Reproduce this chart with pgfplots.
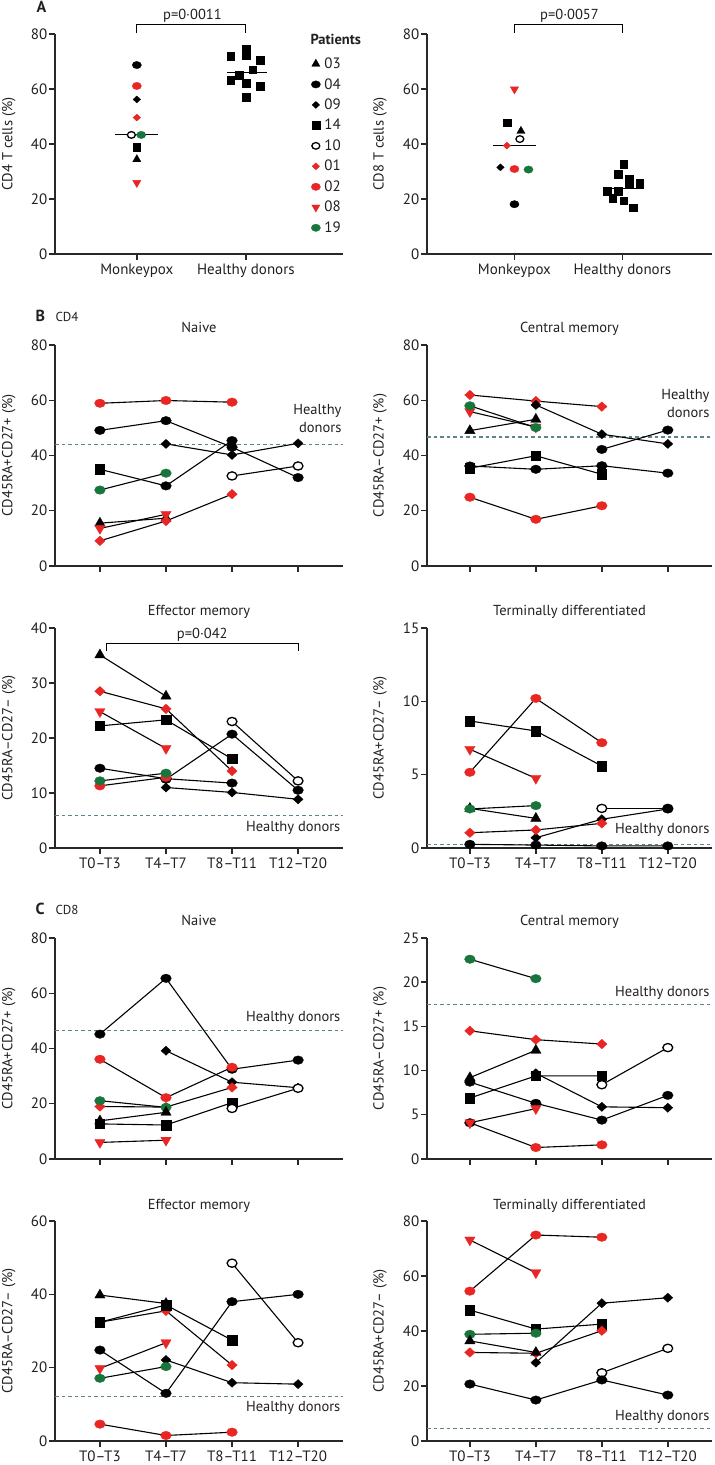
\documentclass[border=0pt]{standalone}
\usepackage{fontspec}
\setmainfont{PT Sans}
\usepackage{pgfplots}
\pgfplotsset{compat=1.18}
\definecolor{mred}{RGB}{232,38,36}
\definecolor{mgreen}{RGB}{24,118,60}
\definecolor{hdcol}{RGB}{95,130,140}
\definecolor{axcol}{RGB}{40,40,40}
\definecolor{txt}{RGB}{35,31,32}
\newcommand{\fs}[1]{\fontsize{#1}{#1}\selectfont}
\tikzset{hdl/.style={font=\fs{14.5}, text=txt, anchor=east, align=right}}
\pgfplotsset{
 base/.style={
  scale only axis, anchor=south west, clip=false,
  axis x line*=bottom, axis y line*=left,
  axis line style={line width=1.4pt, draw=axcol},
  tick style={line width=1.4pt, draw=axcol},
  tick align=outside, major tick length=6pt,
  ymin=0,
  tick label style={font=\fs{15}, text=txt},
  yticklabel style={inner sep=1.5pt},
  /pgf/number format/assume math mode=true,
  ylabel style={font=\fs{14.5}, anchor=center, text=txt},
  title style={font=\fs{14.5}, at={(axis description cs:0.5,1)}, anchor=base, yshift=6pt, text=txt},
 },
 lc/.style={width=288pt, xmin=-0.68, xmax=3.68, xtick={0,1,2,3}, ylabel style={at={(axis description cs:-0.16,0.5)}}},
 rc/.style={width=285pt, xmin=-0.65, xmax=3.67, xtick={0,1,2,3}, ylabel style={at={(axis description cs:-0.165,0.5)}}},
 nolab/.style={xticklabels={}},
 tlab/.style={xticklabels={T0–T3,T4–T7,T8–T11,T12–T20}},
 ser/.style={line width=1.1pt, black, solid},
 p03/.style={ser, mark=triangle*, mark size=6pt, mark options={solid, draw=black, fill=black, line width=0.3pt}},
 p04/.style={ser, mark=*, mark size=4.3pt, mark options={solid, draw=black, fill=black, line width=0.3pt, xscale=1.25}},
 p09/.style={ser, mark=diamond*, mark size=4.6pt, mark options={solid, draw=black, fill=black, line width=0.3pt, xscale=1.45}},
 p14/.style={ser, mark=square*, mark size=4.7pt, mark options={solid, draw=black, fill=black, line width=0.3pt}},
 p10/.style={ser, mark=*, mark size=4.1pt, mark options={solid, draw=black, fill=white, line width=1.3pt, xscale=1.2}},
 p01/.style={ser, mark=diamond*, mark size=4.8pt, mark options={solid, draw=mred, fill=mred, line width=0.3pt, xscale=1.45}},
 p02/.style={ser, mark=*, mark size=4.3pt, mark options={solid, draw=mred, fill=mred, line width=0.3pt, xscale=1.25}},
 p08/.style={ser, mark=triangle*, mark size=6pt, mark options={solid, draw=mred, fill=mred, line width=0.3pt, rotate=180}},
 p19/.style={ser, mark=*, mark size=4.3pt, mark options={solid, draw=mgreen, fill=mgreen, line width=0.3pt, xscale=1.25}},
 hd/.style={hdcol, dash pattern=on 3.5pt off 3pt, line width=1.2pt, forget plot},
 brk/.style={black, line width=1.1pt, forget plot},
}
\begin{document}
\begin{tikzpicture}
\path[use as bounding box] (0,0) rectangle (715pt,1465pt);
% ---------------- Panel A left
\begin{axis}[base, width=288pt, height=220pt, at={(55pt,1211pt)}, xmin=-0.75, xmax=1.89, ymax=80,
  xtick={0,1}, xticklabels={Monkeypox,Healthy donors}, ytick={0,20,40,60,80},
  ylabel={CD4 T cells (\%)}, ylabel style={at={(axis description cs:-0.16,0.5)}},
  legend style={draw=none, fill=none, at={(rel axis cs:0.889,0.897)}, anchor=north west, font=\fs{15}, text=txt, inner sep=0pt, row sep=6.3pt, nodes={inner sep=1pt}, /tikz/every odd column/.append style={column sep=3pt}},
  legend cell align=left]
\addplot[p04, only marks, mark size=3.7pt, forget plot] coordinates {(0,68.7)};
\addplot[p02, only marks, mark size=3.7pt, forget plot] coordinates {(0,61.1)};
\addplot[p09, only marks, mark size=3.5pt, forget plot] coordinates {(0,56.2)};
\addplot[p01, only marks, mark size=3.5pt, forget plot] coordinates {(0,49.6)};
\addplot[p10, only marks, mark size=3.3pt, forget plot] coordinates {(-0.05,43.3)};
\addplot[p19, only marks, mark size=3.7pt, forget plot] coordinates {(0.04,43.3)};
\addplot[p14, only marks, mark size=3.8pt, forget plot] coordinates {(0,38.9)};
\addplot[p03, only marks, mark size=4.8pt, forget plot] coordinates {(0,34.4)};
\addplot[p08, only marks, mark size=4.8pt, forget plot] coordinates {(0,25.9)};
\addplot[brk] coordinates {(-0.2,43.3)(0.19,43.3)};
\addplot[p14, only marks, mark size=3.8pt, forget plot] coordinates {(0.86,72.0)(1.0,74.4)(1.0,72.4)(1.13,70.4)(1.06,67.0)(0.94,65.1)(0.86,63.3)(1.0,62.1)(1.13,61.1)(1.0,57.0)};
\addplot[brk] coordinates {(0.83,65.9)(1.19,65.9)};
\addplot[brk] coordinates {(0,80.3)(0,83.6)(1,83.6)(1,80.3)};
\node[anchor=base, font=\fs{14.5}, text=txt] at (axis cs:0.51,85.1) {p=0·0011};
\node[anchor=base west, font=\bfseries\fs{14.5}, text=txt] at (rel axis cs:0.875,0.95) {Patients};
\addlegendimage{p03, only marks, mark size=4.8pt}\addlegendentry{03}
\addlegendimage{p04, only marks, mark size=3.7pt}\addlegendentry{04}
\addlegendimage{p09, only marks, mark size=3.5pt}\addlegendentry{09}
\addlegendimage{p14, only marks, mark size=3.8pt}\addlegendentry{14}
\addlegendimage{p10, only marks, mark size=3.3pt}\addlegendentry{10}
\addlegendimage{p01, only marks, mark size=3.5pt}\addlegendentry{01}
\addlegendimage{p02, only marks, mark size=3.7pt}\addlegendentry{02}
\addlegendimage{p08, only marks, mark size=4.8pt}\addlegendentry{08}
\addlegendimage{p19, only marks, mark size=3.7pt}\addlegendentry{19}
\end{axis}
% ---------------- Panel A right
\begin{axis}[base, width=285pt, height=220pt, at={(427pt,1211pt)}, xmin=-0.81, xmax=1.83, ymax=80,
  xtick={0,1}, xticklabels={Monkeypox,Healthy donors}, ytick={0,20,40,60,80},
  ylabel={CD8 T cells (\%)}, ylabel style={at={(axis description cs:-0.165,0.5)}}]
\addplot[p08, only marks, mark size=4.8pt] coordinates {(0,59.9)};
\addplot[p14, only marks, mark size=3.8pt] coordinates {(-0.07,47.7)};
\addplot[p03, only marks, mark size=4.8pt] coordinates {(0.06,44.7)};
\addplot[p10, only marks, mark size=3.3pt] coordinates {(0.05,41.8)};
\addplot[p01, only marks, mark size=3.5pt] coordinates {(-0.07,39.4)};
\addplot[p09, only marks, mark size=3.5pt] coordinates {(-0.13,31.5)};
\addplot[p02, only marks, mark size=3.7pt] coordinates {(0,30.9)};
\addplot[p19, only marks, mark size=3.7pt] coordinates {(0.13,30.7)};
\addplot[p04, only marks, mark size=3.7pt] coordinates {(0,18.1)};
\addplot[brk] coordinates {(-0.2,39.6)(0.2,39.6)};
\addplot[p14, only marks, mark size=3.8pt] coordinates {(1.01,32.6)(0.96,29.1)(1.06,27.3)(1.06,25.3)(1.16,25.8)(0.86,22.9)(0.96,22.9)(0.91,20.2)(1.01,19.4)(1.1,16.8)};
\addplot[brk] coordinates {(0.82,23.9)(1.2,23.9)};
\addplot[brk] coordinates {(0,80.3)(0,83.6)(1,83.6)(1,80.3)};
\node[anchor=base, font=\fs{14.5}, text=txt] at (axis cs:0.51,85.1) {p=0·0057};
\end{axis}
% ---------------- B CD4 Naive
\begin{axis}[base, lc, nolab, at={(55pt,899pt)}, height=221pt, ymax=80, ytick={0,20,40,60,80},
  ylabel={CD45RA+CD27+ (\%)}, title={Naive}]
\addplot[hd] coordinates {(-0.68,44)(3.68,44)};
\addplot[p02] coordinates {(0,58.9)(1,59.9)(2,59.3)};
\addplot[p04] coordinates {(0,49.1)(1,52.6)(2,43.0)(3,32.0)};
\addplot[p09] coordinates {(1,44.2)(2,40.2)(3,44.4)};
\addplot[p14, mark indices={1}] coordinates {(0,35.0)(1,29.0)};
\addplot[p04] coordinates {(1,29.0)(2,45.4)};
\addplot[p19] coordinates {(0,27.5)(1,33.6)};
\addplot[p03] coordinates {(0,15.5)(1,17.3)};
\addplot[p08] coordinates {(0,13.6)(1,18.7)};
\addplot[p01] coordinates {(0,9.1)(1,16.3)(2,26.0)};
\addplot[p10] coordinates {(2,32.6)(3,36.2)};
\node[hdl, font=\fontsize{14.5}{18.7}\selectfont] at (rel axis cs:1.007,0.668) {Healthy\\donors};
\end{axis}
% ---------------- B CD4 Central memory
\begin{axis}[base, rc, nolab, at={(427pt,899pt)}, height=221pt, ymax=80, ytick={0,20,40,60,80},
  ylabel={CD45RA–CD27+ (\%)}, title={Central memory}]
\addplot[hd] coordinates {(-0.65,46.7)(3.67,46.7)};
\addplot[p01] coordinates {(0,61.9)(1,59.7)(2,57.7)};
\addplot[p08] coordinates {(0,55.9)(1,50.3)};
\addplot[p19] coordinates {(0,58.0)(1,50.1)};
\addplot[p03] coordinates {(0,49.0)(1,53.1)};
\addplot[p09] coordinates {(1,58.3)(2,47.7)(3,44.2)};
\addplot[p04] coordinates {(2,42.2)(3,49.2)};
\addplot[p04] coordinates {(0,36.2)(1,35.0)(2,36.3)(3,33.6)};
\addplot[p14] coordinates {(0,35.4)(1,39.9)(2,33.2)};
\addplot[p02] coordinates {(0,24.9)(1,16.9)(2,21.8)};
\node[hdl, font=\fontsize{14.5}{18.7}\selectfont] at (rel axis cs:1.0035,0.735) {Healthy\\donors};
\end{axis}
% ---------------- B CD4 Effector memory
\begin{axis}[base, lc, tlab, at={(55pt,617pt)}, height=220pt, ymax=40, ytick={0,10,20,30,40},
  ylabel={CD45RA–CD27– (\%)}, title={Effector memory}]
\addplot[hd] coordinates {(-0.68,5.9)(3.68,5.9)};
\addplot[p03] coordinates {(0,35.1)(1,27.6)};
\addplot[p01] coordinates {(0,28.5)(1,25.3)(2,14.0)};
\addplot[p08] coordinates {(0,24.8)(1,18.1)};
\addplot[p14] coordinates {(0,22.2)(1,23.3)(2,16.2)};
\addplot[p10] coordinates {(2,23.0)(3,12.2)};
\addplot[p04] coordinates {(1,12.5)(2,20.7)(3,10.5)};
\addplot[p04] coordinates {(0,14.5)(1,12.6)(2,11.8)};
\addplot[p09] coordinates {(1,11.0)(2,10.1)(3,8.85)};
\addplot[p02] coordinates {(0,11.3)(1,12.85)};
\addplot[p19] coordinates {(0,12.2)(1,13.6)};
\addplot[brk] coordinates {(0.1,35.8)(0.1,37.2)(3,37.2)(3,35.8)};
\node[anchor=base, font=\fs{14.5}, text=txt] at (axis cs:1.55,38.0) {p=0·042};
\node[hdl] at (rel axis cs:1.003,0.092) {Healthy donors};
\end{axis}
% ---------------- B CD4 Terminally differentiated
\begin{axis}[base, rc, tlab, at={(427pt,617pt)}, height=220pt, ymax=15, ytick={0,5,10,15},
  ylabel={CD45RA+CD27– (\%)}, title={Terminally differentiated}]
\addplot[hd] coordinates {(-0.65,0.25)(3.67,0.25)};
\addplot[p04] coordinates {(0,0.25)(1,0.2)(2,0.14)(3,0.14)};
\addplot[p02] coordinates {(0,5.16)(1,10.2)(2,7.18)};
\addplot[p14] coordinates {(0,8.66)(1,7.98)(2,5.59)};
\addplot[p08] coordinates {(0,6.73)(1,4.75)};
\addplot[p09, mark indices={1,2}] coordinates {(1,0.7)(2,1.96)(3,2.66)};
\addplot[p10] coordinates {(2,2.7)(3,2.7)};
\addplot[p04, only marks] coordinates {(3,2.66)};
\addplot[p01] coordinates {(0,1.04)(1,1.23)(2,1.68)};
\addplot[p03] coordinates {(0,2.7)(1,2.02)};
\addplot[p19] coordinates {(0,2.66)(1,2.89)};
\node[hdl] at (rel axis cs:1.0035,0.082) {Healthy donors};
\end{axis}
% ---------------- C CD8 Naive
\begin{axis}[base, lc, nolab, at={(55pt,306pt)}, height=221pt, ymax=80, ytick={0,20,40,60,80},
  ylabel={CD45RA+CD27+ (\%)}, title={Naive}]
\addplot[hd] coordinates {(-0.68,46.5)(3.68,46.5)};
\addplot[p04] coordinates {(0,45.2)(1,65.4)(2,32.5)(3,35.8)};
\addplot[p02] coordinates {(0,36.1)(1,22.2)(2,33.2)};
\addplot[p09] coordinates {(1,39.2)(2,27.8)(3,25.8)};
\addplot[p01] coordinates {(0,19.0)(1,18.8)(2,25.9)};
\addplot[p19] coordinates {(0,21.1)(1,18.7)};
\addplot[p03] coordinates {(0,13.8)(1,16.9)};
\addplot[p14] coordinates {(0,12.7)(1,12.3)(2,20.4)};
\addplot[p10] coordinates {(2,18.3)(3,25.6)};
\addplot[p08] coordinates {(0,6.0)(1,6.8)};
\node[hdl] at (rel axis cs:1.003,0.637) {Healthy donors};
\end{axis}
% ---------------- C CD8 Central memory
\begin{axis}[base, rc, nolab, at={(427pt,306pt)}, height=221pt, ymax=25, ytick={0,5,10,15,20,25},
  ylabel={CD45RA–CD27+ (\%)}, title={Central memory}]
\addplot[hd] coordinates {(-0.65,17.5)(3.67,17.5)};
\addplot[p19] coordinates {(0,22.6)(1,20.4)};
\addplot[p01] coordinates {(0,14.5)(1,13.5)(2,13.0)};
\addplot[p04] coordinates {(0,8.7)(1,6.3)(2,4.4)(3,7.2)};
\addplot[p03] coordinates {(0,9.2)(1,12.3)};
\addplot[p14] coordinates {(0,6.9)(1,9.4)(2,9.4)};
\addplot[p09] coordinates {(1,9.7)(2,5.9)(3,5.8)};
\addplot[p10] coordinates {(2,8.4)(3,12.6)};
\addplot[p02, mark indices={2,3}] coordinates {(0,4.1)(1,1.3)(2,1.6)};
\addplot[p04, only marks] coordinates {(0,4.1)};
\addplot[p08] coordinates {(0,4.1)(1,5.7)};
\node[hdl] at (rel axis cs:1.0035,0.75) {Healthy donors};
\end{axis}
% ---------------- C CD8 Effector memory
\begin{axis}[base, lc, tlab, at={(55pt,24pt)}, height=220pt, ymax=60, ytick={0,20,40,60},
  ylabel={CD45RA–CD27– (\%)}, title={Effector memory}]
\addplot[hd] coordinates {(-0.68,12.1)(3.68,12.1)};
\addplot[p10] coordinates {(2,48.5)(3,26.8)};
\addplot[p04] coordinates {(0,24.8)(1,13.0)(2,38.0)(3,40.0)};
\addplot[p03] coordinates {(0,39.8)(1,37.5)};
\addplot[p01] coordinates {(0,32.4)(1,35.5)(2,20.7)};
\addplot[p14] coordinates {(0,32.4)(1,37.1)(2,27.5)};
\addplot[p08] coordinates {(0,19.8)(1,26.8)};
\addplot[p09] coordinates {(1,22.1)(2,15.9)(3,15.5)};
\addplot[p19] coordinates {(0,17.1)(1,20.3)};
\addplot[p02] coordinates {(0,4.6)(1,1.5)(2,2.4)};
\node[hdl] at (rel axis cs:1.003,0.149) {Healthy donors};
\end{axis}
% ---------------- C CD8 Terminally differentiated
\begin{axis}[base, rc, tlab, at={(427pt,24pt)}, height=220pt, ymax=80, ytick={0,20,40,60,80},
  ylabel={CD45RA+CD27– (\%)}, title={Terminally differentiated}]
\addplot[hd] coordinates {(-0.65,4.6)(3.67,4.6)};
\addplot[p08] coordinates {(0,73.1)(1,61.2)};
\addplot[p02] coordinates {(0,54.5)(1,74.9)(2,74.1)};
\addplot[p09] coordinates {(1,28.5)(2,50.1)(3,52.1)};
\addplot[p14] coordinates {(0,47.6)(1,40.7)(2,42.5)};
\addplot[p19] coordinates {(0,38.8)(1,39.2)};
\addplot[p01] coordinates {(0,32.2)(1,31.9)(2,40.1)};
\addplot[p03] coordinates {(0,36.4)(1,32.2)};
\addplot[p10] coordinates {(2,24.8)(3,33.7)};
\addplot[p04] coordinates {(0,20.7)(1,14.9)(2,22.2)(3,16.7)};
\node[hdl] at (rel axis cs:1.0035,0.11) {Healthy donors};
\end{axis}
% section letters
\node[anchor=base west, font=\bfseries\fs{16}, text=txt] at (33pt,1452pt) {A};
\node[anchor=base west, font=\bfseries\fs{16}, text=txt] at (32pt,1143pt) {B};
\node[anchor=base west, font=\fs{13}, text=txt] at (52pt,1143pt) {CD4};
\node[anchor=base west, font=\bfseries\fs{16}, text=txt] at (32pt,550pt) {C};
\node[anchor=base west, font=\fs{13}, text=txt] at (52pt,550pt) {CD8};
\end{tikzpicture}
\end{document}
